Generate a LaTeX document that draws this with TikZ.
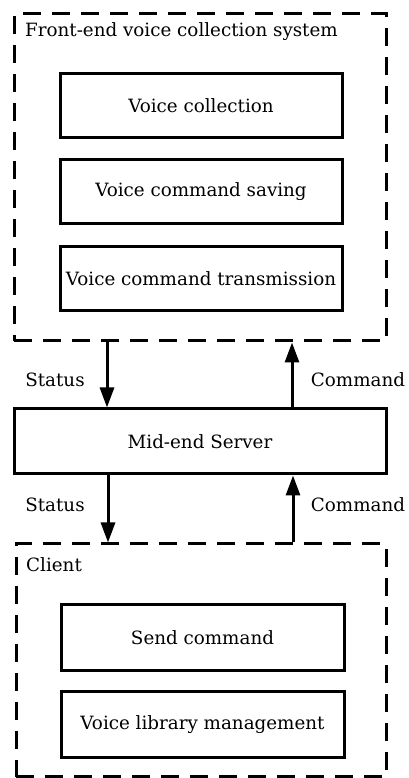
\documentclass[tikz,border=0pt]{standalone}
\usepackage{fontspec}
\setmainfont{DejaVu Serif}
\usetikzlibrary{arrows.meta}
\begin{document}
\begin{tikzpicture}[x=1pt,y=1pt,
  every node/.style={font=\fontsize{18.3}{21}\selectfont},
  box/.style={draw,line width=3pt,minimum width=282pt,minimum height=64pt,inner sep=0pt},
  container/.style={draw,line width=3pt,dash pattern=on 18pt off 11pt,inner sep=0pt},
  arr/.style={line width=3pt,-{Triangle[length=20pt,width=14pt]}},
  lbl/.style={inner sep=0pt}]
\useasboundingbox (0,0) rectangle (408,778);
% top container
\node[container,minimum width=372pt,minimum height=327pt] (sys) at (200,600.5) {};
\node[lbl,anchor=west] (systitle) at (25,746) {Front-end voice collection system};
\node[box] (vc) at (201,672) {Voice collection};
\node[box] (vcs) at (201,586) {Voice command saving};
\node[box] (vct) at (201,499) {Voice command transmission};
% server
\node[box,minimum width=372pt,minimum height=65pt] (srv) at (200,336.5) {Mid-end Server};
% client
\node[container,minimum width=370pt,minimum height=233pt] (cli) at (201,117.5) {};
\node[lbl,anchor=west] (clititle) at (26,213) {Client};
\node[box,minimum width=283pt,minimum height=66pt] (sc) at (202.5,140) {Send command};
\node[box,minimum width=283pt,minimum height=66pt] (vlm) at (202.5,53) {Voice library management};
% arrows
\draw[arr] ([xshift=-93pt]sys.south) -- ([xshift=-93pt]srv.north);
\draw[arr] ([xshift=92pt]srv.north) -- ([xshift=92pt]sys.south);
\draw[arr] ([xshift=-92pt]srv.south) -- ([xshift=-93pt]cli.north);
\draw[arr] ([xshift=92pt]cli.north) -- ([xshift=93pt]srv.south);
% labels
\node[lbl] (st1) at (55,398) {Status};
\node[lbl] (cm1) at (358,398) {Command};
\node[lbl] (st2) at (55,273) {Status};
\node[lbl] (cm2) at (358,273) {Command};
\end{tikzpicture}
\end{document}
